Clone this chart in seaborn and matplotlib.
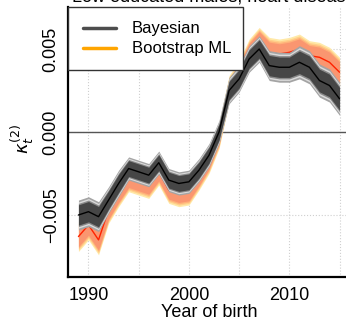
import numpy as np
import pandas as pd
import seaborn as sns
import matplotlib.pyplot as plt
from matplotlib.patches import Rectangle

# data
years = list(range(1989, 2016))
bayes_median = [-0.0050, -0.0048, -0.0051, -0.0041, -0.0031, -0.0022, -0.0024, -0.0026, -0.00185,
                -0.0029, -0.0031, -0.0030, -0.0023, -0.0014, 0.0000, 0.0025, 0.0032, 0.0044, 0.0050,
                0.0040, 0.0039, 0.0039, 0.0042, 0.0039, 0.0031, 0.0028, 0.0020]
boot_median = [-0.0063, -0.0056, -0.0065, -0.0047, -0.0037, -0.0028, -0.0030, -0.0032, -0.0024,
               -0.0035, -0.0037, -0.0036, -0.0027, -0.0017, -0.0002, 0.0026, 0.0035, 0.0048, 0.0055,
               0.0048, 0.0047, 0.0048, 0.0050, 0.0046, 0.0045, 0.0042, 0.0036]
bayes_spread = [0.0009, 0.0009, 0.0009, 0.0008, 0.0008, 0.0007, 0.0007, 0.0007, 0.0007,
                0.0007, 0.0007, 0.0007, 0.0007, 0.0007, 0.0007, 0.0008, 0.0008, 0.0008, 0.0008,
                0.0009, 0.0009, 0.0009, 0.0010, 0.0010, 0.0010, 0.0010, 0.0010]
boot_spread = [0.0009, 0.0009, 0.0009, 0.0008, 0.0008, 0.0008, 0.0008, 0.0008, 0.0008,
               0.0008, 0.0008, 0.0008, 0.0008, 0.0008, 0.0008, 0.0008, 0.0008, 0.0008, 0.0008,
               0.0009, 0.0009, 0.0009, 0.0009, 0.0009, 0.0009, 0.0009, 0.0009]
levels = [1.0, 0.88, 0.78, 0.68]
gray_cols = ['#a4a4a4', '#dadada', '#8a8a8a', '#464646']
orange_cols = ['#ffe9a8', '#ffd08a', '#ffb27a', '#fa9670']
xticks = [1990, 1995, 2000, 2005, 2010, 2015]
xticklabels = ['1990', '', '2000', '', '2010', '']
yticks = [-0.005, 0.0, 0.005]
yticklabels = ['\u22120.005', '0.000', '0.005']
legend_labels = ['Bayesian', 'Bootstrap ML']
legend_colors = ['#4d4d4d', '#ffa500']

df = pd.DataFrame({'year': years, 'bayes': bayes_median, 'boot': boot_median,
                   'bs': bayes_spread, 'ms': boot_spread})

sns.set_style('white')
plt.rcParams['font.family'] = ['Liberation Sans', 'DejaVu Sans']
plt.rcParams['mathtext.fontset'] = 'dejavusans'
plt.rcParams['text.color'] = 'black'
plt.rcParams['axes.labelcolor'] = 'black'
plt.rcParams['xtick.color'] = 'black'
plt.rcParams['ytick.color'] = 'black'

W, H = 346, 320
fig = plt.figure(figsize=(W / 100, H / 100), dpi=100)
ax = fig.add_axes([68 / W, 43 / H, 282 / W, 270 / H])

ax.grid(True, ls=':', color='#cfcfcf', lw=0.8)
ax.set_axisbelow(True)
ax.axhline(0, color='#555555', lw=1, zorder=1)

# bootstrap ML fan (drawn first, behind)
for f, c in zip(levels, orange_cols):
    ax.fill_between(df.year, df.boot - f * df.ms, df.boot + f * df.ms, color=c, lw=0, zorder=2)
sns.lineplot(data=df, x='year', y='boot', color='#ff2200', lw=1, ax=ax, zorder=3)

# bayesian fan
for f, c in zip(levels, gray_cols):
    ax.fill_between(df.year, df.bayes - f * df.bs, df.bayes + f * df.bs, color=c, lw=0, zorder=4)
sns.lineplot(data=df, x='year', y='bayes', color='black', lw=1, ax=ax, zorder=5)

ax.set_xlim(1987.96, 2016.04)
ax.set_ylim(-0.008735, 0.00753)
ax.set_xticks(xticks)
ax.set_xticklabels(xticklabels, fontsize=13)
ax.set_yticks(yticks)
ax.set_yticklabels(yticklabels, fontsize=13, rotation=90, va='center')
ax.tick_params(direction='out', length=4, width=1, color='#333333', pad=3)
ax.tick_params(axis='y', pad=2)

for s in ['top', 'right']:
    ax.spines[s].set_visible(False)
for s in ['left', 'bottom']:
    ax.spines[s].set_linewidth(1.6)
    ax.spines[s].set_color('black')

ax.set_xlabel('Year of birth', fontsize=13, labelpad=0)
ax.set_ylabel(r'$\kappa_t^{(2)}$', fontsize=13)
ax.yaxis.set_label_coords(-0.115, 0.51)

# legend box in the top-left corner, laid out in figure pixels
fig.patches.append(Rectangle((68 / W, 1 - 70 / H), 175 / W, 63 / H, transform=fig.transFigure,
                             facecolor='white', edgecolor='#333333', lw=1, zorder=10))
for i, (lab, col) in enumerate(zip(legend_labels, legend_colors)):
    yy = 1 - (28 + 20 * i) / H
    fig.add_artist(plt.Line2D([83 / W, 116 / W], [yy, yy], color=col, lw=2.5, zorder=11))
    fig.text(132 / W, yy, lab, fontsize=12, ha='left', va='center', zorder=11)

fig.text(72 / W, 1 - 2 / H, 'Low educated males, heart disease', ha='left', va='baseline',
         fontsize=13)

fig.savefig('out.png', dpi=100)
